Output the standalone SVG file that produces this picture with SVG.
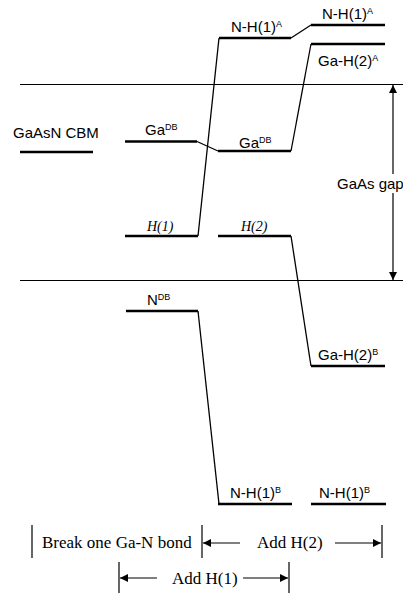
<svg xmlns="http://www.w3.org/2000/svg" width="403" height="598" viewBox="0 0 403 598">
<defs>
<style>
.ref{stroke:#000;stroke-width:1.2;fill:none}
.lvl{stroke:#000;stroke-width:2.5;fill:none}
.con{stroke:#000;stroke-width:1.3;fill:none}
.thin{stroke:#000;stroke-width:1.2;fill:none}
.s{font-family:"Liberation Sans",Arial,sans-serif;font-size:15px;fill:#000}
.sup{font-size:9px}
.i{font-family:"Liberation Serif","Times New Roman",serif;font-style:italic;font-size:14px;fill:#000}
.t{font-family:"Liberation Serif","Times New Roman",serif;font-size:17px;fill:#000}
</style>
<marker id="ah" viewBox="0 0 10 10" refX="10" refY="5" markerWidth="8" markerHeight="8" markerUnits="userSpaceOnUse" orient="auto">
<path d="M0,0 L10,5 L0,10 z" fill="#000"/>
</marker>
</defs>
<rect width="403" height="598" fill="#fff"/>
<g id="refs">
<line class="ref" x1="20" y1="84.5" x2="403" y2="84.5"/>
<line class="ref" x1="20" y1="280.5" x2="403" y2="280.5"/>
</g>
<g id="gap">
<line class="thin" x1="393" y1="174" x2="393" y2="85" marker-end="url(#ah)"/>
<line class="thin" x1="393" y1="193" x2="393" y2="280" marker-end="url(#ah)"/>
<text class="s" x="337" y="189">GaAs gap</text>
</g>
<g id="cbm">
<line class="lvl" x1="20" y1="152" x2="93" y2="152"/>
<text class="s" x="13" y="138">GaAsN CBM</text>
</g>
<g id="ga-db-1">
<line class="lvl" x1="125" y1="141.5" x2="197" y2="141.5"/>
<text class="s" x="145" y="135">Ga<tspan class="sup" dy="-5">DB</tspan></text>
</g>
<g id="h1">
<line class="lvl" x1="125" y1="236" x2="198" y2="236"/>
<text class="i" x="147" y="231">H(1)</text>
</g>
<g id="n-db">
<line class="lvl" x1="126" y1="311" x2="198" y2="311"/>
<text class="s" x="147" y="305">N<tspan class="sup" dy="-5">DB</tspan></text>
</g>
<g id="nh1a-1">
<line class="lvl" x1="219" y1="38" x2="291" y2="38"/>
<text class="s" x="231" y="32">N-H(1)<tspan class="sup" dy="-5">A</tspan></text>
</g>
<g id="ga-db-2">
<line class="lvl" x1="218" y1="151" x2="291" y2="151"/>
<text class="s" x="239" y="148">Ga<tspan class="sup" dy="-5">DB</tspan></text>
</g>
<g id="h2">
<line class="lvl" x1="218" y1="236" x2="291" y2="236"/>
<text class="i" x="241" y="231">H(2)</text>
</g>
<g id="nh1b-1">
<line class="lvl" x1="218" y1="504" x2="292" y2="504"/>
<text class="s" x="230" y="498">N-H(1)<tspan class="sup" dy="-5">B</tspan></text>
</g>
<g id="nh1a-2">
<line class="lvl" x1="311" y1="25" x2="385" y2="25"/>
<text class="s" x="322" y="19">N-H(1)<tspan class="sup" dy="-5">A</tspan></text>
</g>
<g id="gah2a">
<line class="lvl" x1="311" y1="44" x2="385" y2="44"/>
<text class="s" x="318" y="66">Ga-H(2)<tspan class="sup" dy="-5">A</tspan></text>
</g>
<g id="gah2b">
<line class="lvl" x1="311" y1="366" x2="385" y2="366"/>
<text class="s" x="318" y="360">Ga-H(2)<tspan class="sup" dy="-5">B</tspan></text>
</g>
<g id="nh1b-2">
<line class="lvl" x1="311" y1="504" x2="386" y2="504"/>
<text class="s" x="319" y="498">N-H(1)<tspan class="sup" dy="-5">B</tspan></text>
</g>
<g id="connectors">
<line class="con" x1="197" y1="141.5" x2="218" y2="151"/>
<line class="con" x1="198" y1="236" x2="219" y2="38"/>
<line class="con" x1="198" y1="311" x2="219" y2="504"/>
<line class="con" x1="291" y1="38" x2="311" y2="25"/>
<line class="con" x1="291" y1="151" x2="311" y2="44"/>
<line class="con" x1="291" y1="236" x2="311" y2="366"/>
</g>
<g id="steps">
<line class="thin" x1="32" y1="525" x2="32" y2="558"/>
<text class="t" x="42" y="548">Break one Ga-N bond</text>
<line class="thin" x1="202" y1="525" x2="202" y2="558"/>
<line class="thin" x1="240" y1="543" x2="203" y2="543" marker-end="url(#ah)"/>
<text class="t" x="257" y="548">Add H(2)</text>
<line class="thin" x1="335" y1="543" x2="381" y2="543" marker-end="url(#ah)"/>
<line class="thin" x1="382" y1="525" x2="382" y2="558"/>
<line class="thin" x1="119" y1="562" x2="119" y2="593"/>
<line class="thin" x1="157" y1="578" x2="120" y2="578" marker-end="url(#ah)"/>
<text class="t" x="172" y="584">Add H(1)</text>
<line class="thin" x1="243" y1="578" x2="288" y2="578" marker-end="url(#ah)"/>
<line class="thin" x1="289" y1="562" x2="289" y2="593"/>
</g>
</svg>
